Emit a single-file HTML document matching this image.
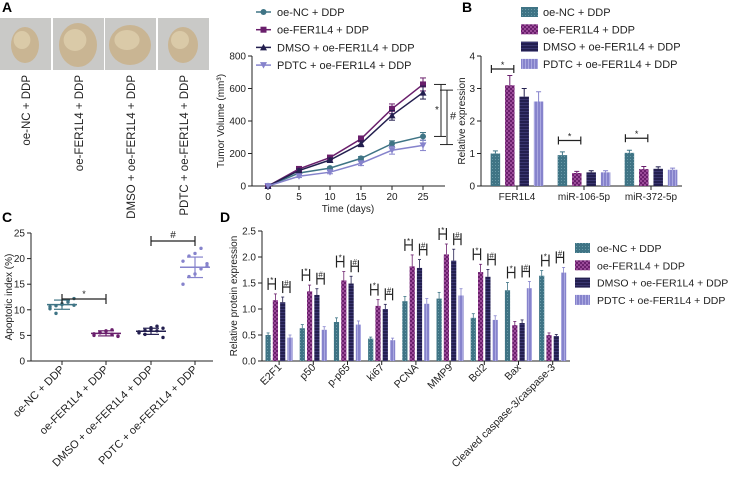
<!DOCTYPE html>
<html><head><meta charset="utf-8"><style>
body{margin:0;background:#fff}
svg{font-family:"Liberation Sans",sans-serif;display:block}
</style></head><body>
<svg id="s" width="729" height="478" viewBox="0 0 729 478">
<defs>
<pattern id="pNC" width="3" height="3" patternUnits="userSpaceOnUse"><rect width="3" height="3" fill="#3f7485"/><rect width="1" height="1" fill="#6a9aa8"/></pattern>
<pattern id="pFE" width="4" height="4" patternUnits="userSpaceOnUse"><rect width="4" height="4" fill="#6a1f6c"/><rect width="2" height="2" fill="#9a4a98"/><rect x="2" y="2" width="2" height="2" fill="#9a4a98"/></pattern>
<pattern id="pDM" width="3" height="3" patternUnits="userSpaceOnUse"><rect width="3" height="3" fill="#231f4f"/><rect width="3" height="1" fill="#3a3670"/></pattern>
<pattern id="pPD" width="3" height="3" patternUnits="userSpaceOnUse"><rect width="3" height="3" fill="#8683cc"/><rect width="1" height="3" fill="#aaa8e0"/></pattern>
</defs>
<g id="root"></g>
</svg>
<script>
const groups=["oe-NC + DDP","oe-FER1L4 + DDP","DMSO + oe-FER1L4 + DDP","PDTC + oe-FER1L4 + DDP"];
const colors=["#3f7485","#6a1f6c","#231f4f","#8683cc"];
const fills=["url(#pNC)","url(#pFE)","url(#pDM)","url(#pPD)"];
// A
const daysA=[0,5,10,15,20,25];
const volNC=[0,80,110,170,260,305];
const volFE=[0,105,175,290,475,625];
const volDM=[0,95,160,260,435,575];
const volPD=[0,60,85,140,220,250];
const errA=[0,10,12,18,30,40];
const ticksAY=[0,200,400,600,800];
// B
const catsB=["FER1L4","miR-106-5p","miR-372-5p"];
const valB=[[1.0,0.95,1.02],[3.1,0.4,0.52],[2.75,0.42,0.53],[2.6,0.42,0.5]];
const errB=[[0.08,0.1,0.08],[0.3,0.05,0.08],[0.25,0.05,0.06],[0.3,0.05,0.05]];
const ticksBY=[0,1,2,3,4];
// C
const meansC=[11,5.4,5.8,18.3];
const sdC=[0.9,0.5,0.6,2.0];
const ptsC=[[10.2,10.8,11.2,11.8,12.2,10.6,9.3,11,11.5,10.9],[5.0,5.6,5.9,6.1,4.8,5.3,5.5,5.8,5.2,4.9],[5.5,6.0,6.5,6.8,4.6,5.7,5.2,6.2,5.9,6.4],[15,16.5,17,18,19,19.5,20.5,21,22,18.5]];
const ticksCY=[0,5,10,15,20,25];
// D
const catsD=["E2F1","p50","p-p65","ki67","PCNA","MMP9","Bcl2","Bax","Cleaved caspase-3/caspase-3"];
const valD=[[0.5,0.63,0.75,0.43,1.15,1.2,0.83,1.36,1.64],[1.17,1.34,1.55,1.06,1.82,2.05,1.71,0.69,0.5],[1.13,1.27,1.49,1.0,1.79,1.93,1.62,0.73,0.48],[0.45,0.6,0.7,0.4,1.1,1.26,0.79,1.4,1.7]];
const errD=[[0.04,0.07,0.08,0.03,0.09,0.12,0.08,0.15,0.1],[0.12,0.12,0.17,0.12,0.22,0.2,0.15,0.07,0.04],[0.1,0.12,0.14,0.09,0.16,0.22,0.14,0.06,0.03],[0.05,0.06,0.07,0.04,0.1,0.13,0.08,0.13,0.1]];
const ticksDY=[0,0.5,1.0,1.5,2.0,2.5];

const NS="http://www.w3.org/2000/svg";const root=document.getElementById('root');
function el(t,a,p){const e=document.createElementNS(NS,t);for(const k in a)e.setAttribute(k,a[k]);(p||root).appendChild(e);return e;}
function txt(x,y,s,a,p){const e=el('text',Object.assign({x:x,y:y,'font-size':10,fill:'#222'},a||{}),p);e.textContent=s;return e;}
function line(x1,y1,x2,y2,c,w,p){return el('line',{x1,y1,x2,y2,stroke:c||'#222','stroke-width':w||1},p);}
function G(name){const g=el('g',{});return g;}

[["A",2,12],["B",462,12],["C",2,222],["D",220,222]].forEach(l=>{const t=txt(l[1],l[2],l[0],{'font-size':14,'font-weight':'bold',fill:'#000'});});

const ph=G('tumor-photos');
const px=[0,53,105,158],sz=[[14,18],[19,22],[21,20],[15,18]];
px.forEach((x,i)=>{el('rect',{x:x,y:18,width:51,height:52,fill:'#c9c9c7'},ph);el('ellipse',{cx:x+25,cy:45,rx:sz[i][0],ry:sz[i][1],fill:'#c9b593'},ph);el('ellipse',{cx:x+22,cy:40,rx:sz[i][0]*0.6,ry:sz[i][1]*0.5,fill:'#dacaa8'},ph);
 const t=txt(0,0,groups[i],{'font-size':11.5,'text-anchor':'end',transform:`translate(${x+30},75) rotate(-90)`},ph);});

const gA=G('tumor-volume-chart');
const ax=d=>268+(d/25)*155, ay=v=>186-(v/800)*130;
line(252,56,252,186,'#222',1,gA);line(252,186,445,186,'#222',1,gA);
ticksAY.forEach(v=>{line(248,ay(v),252,ay(v),'#222',1,gA);txt(246,ay(v)+3.5,v,{'text-anchor':'end'},gA);});
daysA.forEach(d=>{line(ax(d),186,ax(d),190,'#222',1,gA);txt(ax(d),200,d,{'text-anchor':'middle'},gA);});
txt(348,212,"Time (days)",{'text-anchor':'middle'},gA);
txt(0,0,"Tumor Volume  (mm³)",{'text-anchor':'middle',transform:'translate(224,121) rotate(-90)'},gA);
[volNC,volFE,volDM,volPD].forEach((s,i)=>{const g=G('series-'+i);gA.appendChild(g);
 el('polyline',{points:s.map((v,j)=>ax(daysA[j])+','+ay(v)).join(' '),fill:'none',stroke:colors[i],'stroke-width':1.5},g);
 s.forEach((v,j)=>{const x=ax(daysA[j]),y=ay(v),e=errA[j]*(i==3?0.8:1)*(i==0?0.6:1)*130/800;
  if(e>0){line(x,y-e,x,y+e,colors[i],1,g);line(x-3,y-e,x+3,y-e,colors[i],1,g);line(x-3,y+e,x+3,y+e,colors[i],1,g);}
  let m;if(i==0)m=el('circle',{cx:x,cy:y,r:3,fill:colors[i]},g);else if(i==1)m=el('rect',{x:x-3,y:y-3,width:6,height:6,fill:colors[i]},g);else if(i==2)m=el('polygon',{points:`${x},${y-3.5} ${x+3.5},${y+3} ${x-3.5},${y+3}`,fill:colors[i]},g);else m=el('polygon',{points:`${x},${y+3.5} ${x+3.5},${y-3} ${x-3.5},${y-3}`,fill:colors[i]},g);
  });});
const bk=G('significance-brackets-a');gA.appendChild(bk);
line(441,ay(625),441,ay(305),'#222',1,bk);line(434,ay(625),446,ay(625),'#222',1,bk);line(434,ay(305),446,ay(305),'#222',1,bk);txt(437,ay(450),"*",{'font-size':10,'text-anchor':'middle'},bk);
line(447,ay(590),447,ay(255),'#222',1,bk);line(440,ay(590),453,ay(590),'#222',1,bk);line(440,ay(255),453,ay(255),'#222',1,bk);txt(450,ay(410),"#",{'font-size':11},bk);
const lA=G('legend-a');groups.forEach((g,i)=>{const y=12+i*17.7;const le=G('legend-entry');lA.appendChild(le);line(256,y,271,y,colors[i],1.5,le);
 if(i==0)el('circle',{cx:263.5,cy:y,r:3,fill:colors[i]},le);else if(i==1)el('rect',{x:260.5,y:y-3,width:6,height:6,fill:colors[i]},le);else if(i==2)el('polygon',{points:`263.5,${y-3.5} 267,${y+3} 260,${y+3}`,fill:colors[i]},le);else el('polygon',{points:`263.5,${y+3.5} 267,${y-3} 260,${y-3}`,fill:colors[i]},le);
 txt(277,y+4,g,{'font-size':11},le);});

const gB=G('relative-expression-chart');
const by=v=>186-(v/4)*130;
line(481,56,481,186,'#222',1,gB);line(481,186,682,186,'#222',1,gB);
ticksBY.forEach(v=>{line(477,by(v),481,by(v),'#222',1,gB);txt(475,by(v)+3.5,v,{'text-anchor':'end'},gB);});
txt(0,0,"Relative expression",{'text-anchor':'middle',transform:'translate(465,121) rotate(-90)'},gB);
catsB.forEach((c,k)=>{const c0=517+k*67;line(c0,186,c0,190,'#222',1,gB);txt(c0,200,c,{'text-anchor':'middle'},gB);
 for(let i=0;i<4;i++){const x=c0-21.6+i*14.4,v=valB[i][k],e=errB[i][k];const r=el('rect',{x:x-4.75,y:by(v),width:9.5,height:by(0)-by(v),fill:fills[i]},gB);
  line(x,by(v),x,by(v+e),colors[i],1,gB);line(x-2.5,by(v+e),x+2.5,by(v+e),colors[i],1,gB);}
 const x1=c0-21.6,x2=c0-7.2,yb=by(k==0?3.6:valB[0][k]+0.45);line(x1-4,yb,x2+4,yb,'#222',1.2,gB);line(x1-4,yb-4,x1-4,yb+4,'#222',1.2,gB);line(x2+4,yb-4,x2+4,yb+4,'#222',1.2,gB);txt((x1+x2)/2,yb-1,"*",{'font-size':9,'text-anchor':'middle'},gB);});
const lB=G('legend-b');groups.forEach((g,i)=>{const y=12+i*17.3;const le=G('legend-entry');lB.appendChild(le);el('rect',{x:521,y:y-5,width:17,height:10,fill:fills[i]},le);txt(543,y+4,g,{'font-size':11},le);});

const gC=G('apoptotic-index-chart');
const cy=v=>361-(v/25)*128,cx=[62,106,151,195];
line(31,233,31,361,'#222',1,gC);line(31,361,213,361,'#222',1,gC);
ticksCY.forEach(v=>{line(27,cy(v),31,cy(v),'#222',1,gC);txt(25,cy(v)+3.5,v,{'text-anchor':'end'},gC);});
txt(0,0,"Apoptotic index (%)",{'text-anchor':'middle',transform:'translate(12,297) rotate(-90)'},gC);
groups.forEach((g,i)=>{const x=cx[i];line(x,361,x,365,'#222',1,gC);txt(0,0,g,{'font-size':11,'text-anchor':'end',transform:`translate(${x+3},370) rotate(-45)`},gC);
 ptsC[i].forEach((v,j)=>{const c=el('circle',{cx:x-12+(j%5)*6,cy:cy(v),r:1.7,fill:colors[i]},gC);});
 line(x-15,cy(meansC[i]),x+15,cy(meansC[i]),colors[i],1.5,gC);line(x,cy(meansC[i]-sdC[i]),x,cy(meansC[i]+sdC[i]),colors[i],1.2,gC);
 [1,-1].forEach(s=>line(x-8,cy(meansC[i]+s*sdC[i]),x+8,cy(meansC[i]+s*sdC[i]),colors[i],1.2,gC));});
line(62,299,106,299,'#222',1.2,gC);line(62,294,62,304,'#222',1.2,gC);line(106,294,106,304,'#222',1.2,gC);txt(84,297,"*",{'font-size':9,'text-anchor':'middle'},gC);
line(151,241,195,241,'#222',1.2,gC);line(151,236,151,246,'#222',1.2,gC);line(195,236,195,246,'#222',1.2,gC);txt(173,238,"#",{'font-size':10,'text-anchor':'middle'},gC);

const gD=G('protein-expression-chart');
const dy=v=>361-(v/2.5)*130;
line(262,231,262,361,'#222',1,gD);line(262,361,570,361,'#222',1,gD);
ticksDY.forEach(v=>{line(258,dy(v),262,dy(v),'#222',1,gD);txt(256,dy(v)+3.5,v.toFixed(1),{'text-anchor':'end'},gD);});
txt(0,0,"Relative protein expression",{'text-anchor':'middle',transform:'translate(237,296) rotate(-90)'},gD);
catsD.forEach((c,k)=>{const c0=262+17.1+k*34.2;line(c0,361,c0,365,'#222',1,gD);txt(0,0,c,{'font-size':10.5,'text-anchor':'end',transform:`translate(${c0+3},368) rotate(-45)`},gD);
 const xs=[];for(let i=0;i<4;i++){const x=c0-11+i*7.3;xs.push(x);const v=valD[i][k],e=errD[i][k];const r=el('rect',{x:x-2.6,y:dy(v),width:5.2,height:dy(0)-dy(v),fill:fills[i]},gD);
  line(x,dy(v),x,dy(v+e),colors[i],0.8,gD);line(x-1.5,dy(v+e),x+1.5,dy(v+e),colors[i],0.8,gD);}
 [[0,1,'*'],[2,3,'#']].forEach(p=>{const top=Math.max(valD[p[0]][k]+errD[p[0]][k],valD[p[1]][k]+errD[p[1]][k]);const y=dy(top)-10;
  line(xs[p[0]],y,xs[p[1]],y,'#222',1.2,gD);line(xs[p[0]],y-6,xs[p[0]],y+6,'#222',1.2,gD);line(xs[p[1]],y-6,xs[p[1]],y+6,'#222',1.2,gD);txt((xs[p[0]]+xs[p[1]])/2,y-1,p[2],{'font-size':8,'text-anchor':'middle'},gD);});});
const lD=G('legend-d');groups.forEach((g,i)=>{const y=248+i*17.3;const le=G('legend-entry');lD.appendChild(le);el('rect',{x:575,y:y-5,width:15,height:10,fill:fills[i]},le);txt(597,y+4,g,{'font-size':10.5},le);});
</script>
</body></html>
